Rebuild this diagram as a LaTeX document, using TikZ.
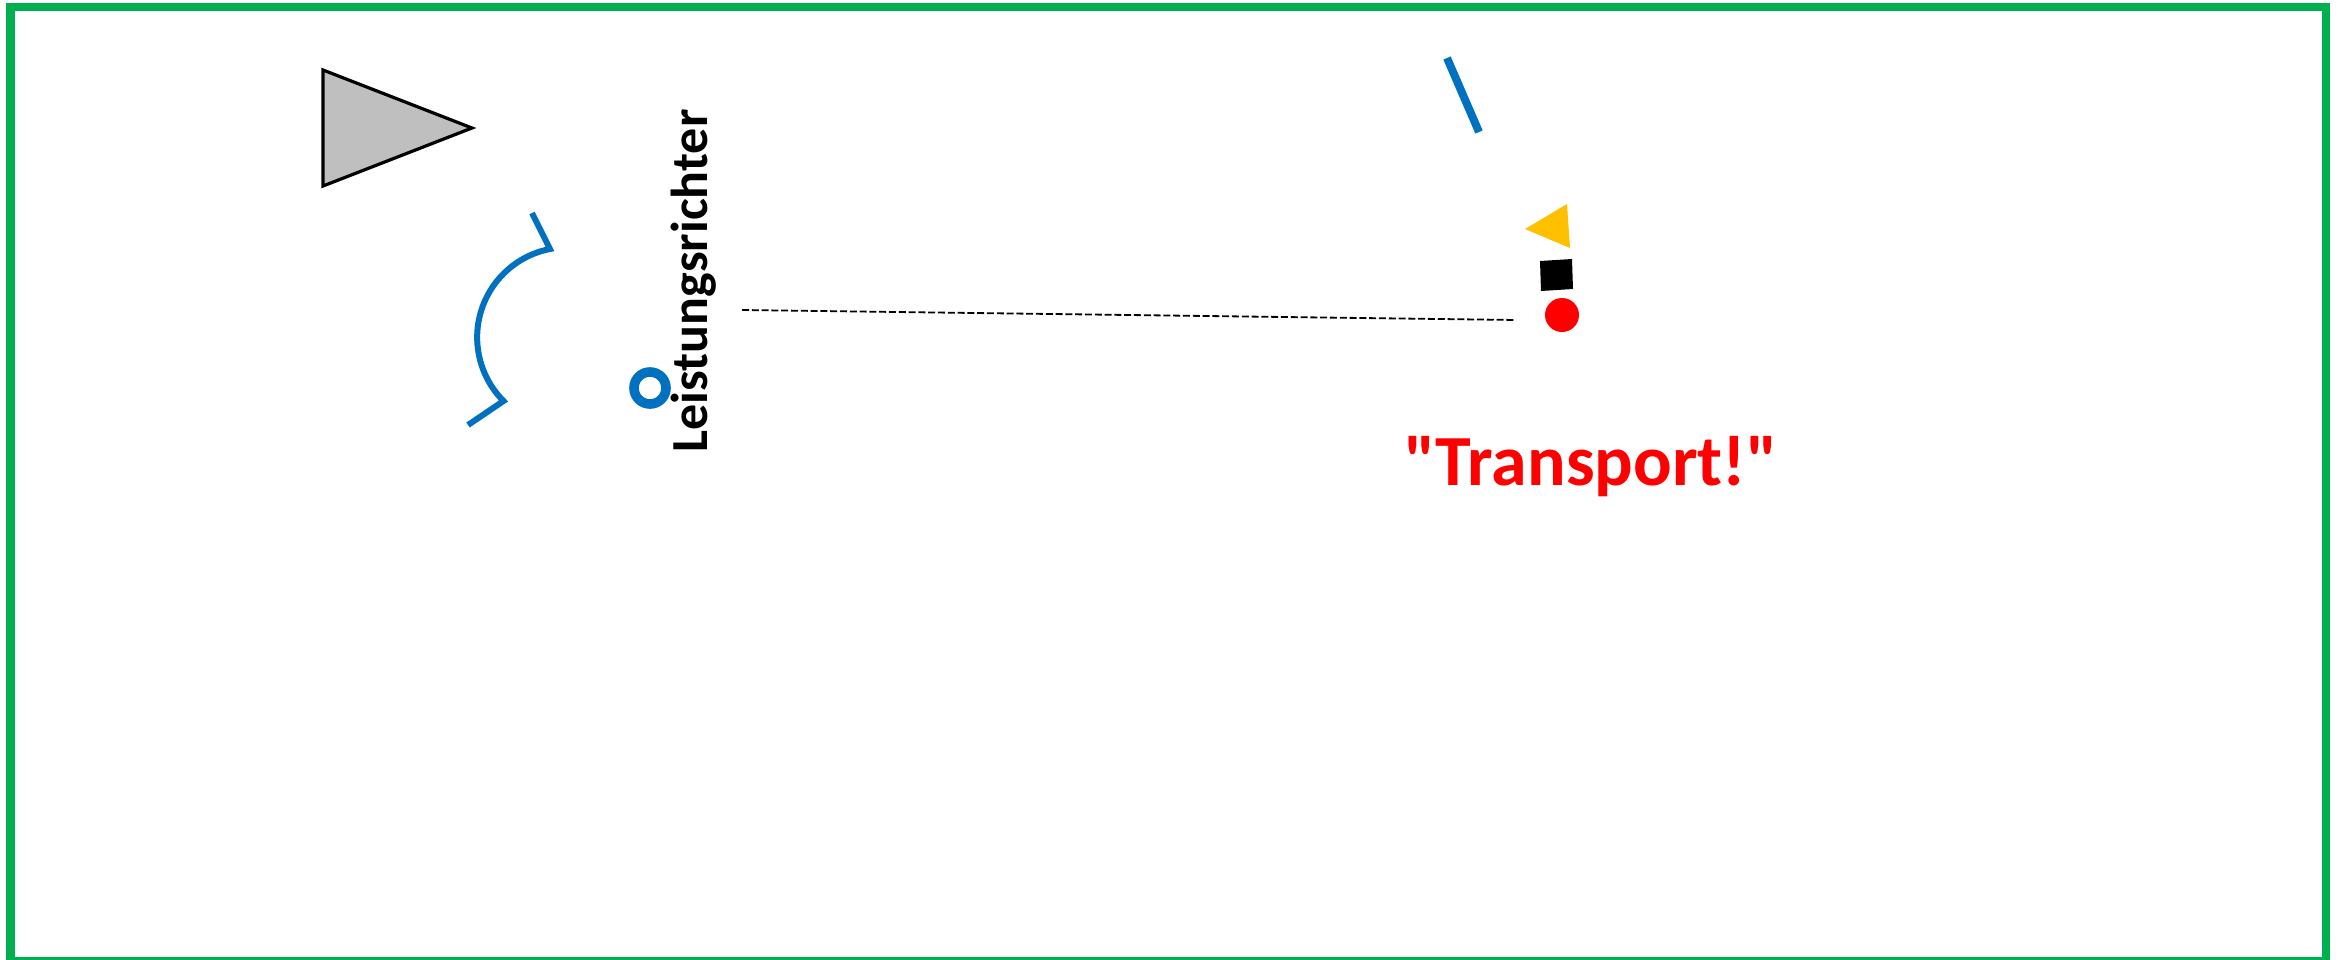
\documentclass[tikz,border=0pt]{standalone}
\usepackage{fontspec}
\newfontfamily\carlito{Carlito}
\definecolor{frameg}{HTML}{00B050}
\definecolor{blu}{HTML}{0070C0}
\definecolor{gold}{HTML}{FFC000}
\definecolor{greyfill}{HTML}{BFBFBF}
\tikzset{
  frame/.style={draw=frameg, line width=4.4pt},
  blueline/.style={draw=blu, line width=3pt},
  lbl/.style={font=\carlito\bfseries, inner sep=0pt},
}
\begin{document}
\begin{tikzpicture}[x=0.5pt,y=-0.5pt]
\useasboundingbox (0,0) rectangle (2341,959);
\fill[white] (0,0) rectangle (2341,959);
\draw[frame] (10.5,7) rectangle (2326,961.5);
% grey triangle
\draw[fill=greyfill, line width=1.6pt, line join=miter] (323,70) -- (472,128) -- (323,186) -- cycle;
% blue arc shape
\draw[blueline] (532,213) -- (550,249) arc[start angle=259, end angle=135, radius=90] -- (468,425);
% small blue ring
\draw[blu, line width=4.8pt] (650,388) circle[radius=16];
% vertical label
\node[lbl, rotate=90, anchor=base, font=\carlito\bfseries\fontsize{26pt}{30pt}\selectfont] (lr) at (707,281) {Leistungsrichter};
% dashed connector
\coordinate (dA) at (742,310);
\coordinate (dB) at (1516,320);
\draw[black, line width=0.9pt, dash pattern=on 3.5pt off 1.4pt] (dA) -- (dB);
% blue top line
\draw[draw=blu, line width=4pt] (1447,58) -- (1479,132);
% yellow triangle
\fill[gold] (1525,229) -- (1567,204) -- (1570,248) -- cycle;
% black square
\fill[black] (1540,261) -- (1572,259) -- (1573,289) -- (1541,291) -- cycle;
% red circle
\fill[red] (1562,315) circle[radius=17];
% red text
\node[lbl, text=red, anchor=base, font=\carlito\bfseries\fontsize{36pt}{40pt}\selectfont] (tr) at (1591,485) {"Transport!"};
\end{tikzpicture}
\end{document}
